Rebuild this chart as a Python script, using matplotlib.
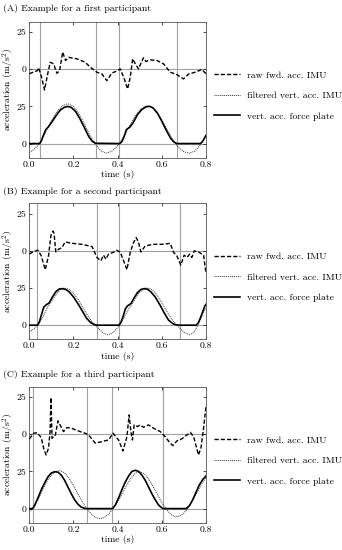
import numpy as np
import matplotlib
matplotlib.use("Agg")
import matplotlib.pyplot as plt

plt.rcParams['font.family'] = 'serif'
plt.rcParams['font.serif'] = ['cmr10']
plt.rcParams['mathtext.fontset'] = 'cm'
plt.rcParams['axes.formatter.use_mathtext'] = True
plt.rcParams['font.size'] = 7

# offset of the raw forward acceleration trace on the shared y axis
raw_offset = 50

titles = ["(A) Example for a first participant",
          "(B) Example for a second participant",
          "(C) Example for a third participant"]
legend_labels = ["raw fwd. acc. IMU", "filtered vert. acc. IMU", "vert. acc. force plate"]
x_ticks = [0.0, 0.2, 0.4, 0.6, 0.8]
x_tick_labels = ["0.0", "0.2", "0.4", "0.6", "0.8"]
y_ticks = [0, 25, 50, 75]
y_tick_labels = ["0", "25", "0", "25"]

# gait events (vertical lines)
events_a = [0.047, 0.300, 0.407, 0.668]
events_b = [0.037, 0.308, 0.406, 0.681]
events_c = [0.015, 0.262, 0.376, 0.606]

# ---- participant A ----
raw_a_t = [0, 0.036, 0.042, 0.055, 0.069, 0.082, 0.095, 0.11, 0.125, 0.137, 0.151, 0.164, 0.178,
           0.216, 0.253, 0.276, 0.306, 0.329, 0.351, 0.374, 0.397, 0.412, 0.43, 0.445, 0.457,
           0.468, 0.48, 0.495, 0.507, 0.517, 0.528, 0.548, 0.578, 0.608, 0.638, 0.668, 0.698,
           0.721, 0.751, 0.781, 0.8]
raw_a_v = [-3, -1, 1, -5, -14, -4, 4.7, 3.6, -2.7, -1, 11.5, 5.9, 8,
           7, 4.7, 1.4, -2, -3.2, -7.7, -2.5, -1.2, 0.2, -6.5, -13.3, -5.4,
           7, 3.6, 0.2, 4.7, 7.7, 5.2, 6.3, 5.9, 3.6, -2, -3.6, -6.5,
           -3.2, -2, -0.2, -3]
filt_a_t = [0, 0.025, 0.05, 0.075, 0.1, 0.125, 0.15, 0.175, 0.2, 0.225, 0.25, 0.275, 0.3, 0.325,
            0.35, 0.375, 0.4, 0.425, 0.45, 0.475, 0.5, 0.525, 0.55, 0.575, 0.6, 0.625, 0.65,
            0.675, 0.7, 0.725, 0.75, 0.775, 0.8]
filt_a_v = [-6, -3.5, 0.5, 8, 15.5, 21.5, 25.5, 26.8, 25, 20, 13, 5.5, -0.5, -5,
            -6.5, -5, -1.5, 4, 11, 17.5, 22.5, 25.2, 25, 22, 16, 9, 2.5,
            -2.5, -5.5, -6.5, -5, -0.8, 5]
force_a_t = [0, 0.047, 0.055, 0.065, 0.075, 0.085, 0.1, 0.12, 0.14, 0.16, 0.175, 0.19, 0.21, 0.23,
             0.25, 0.27, 0.285, 0.3, 0.41, 0.42, 0.43, 0.44, 0.455, 0.47, 0.49, 0.51, 0.53, 0.545,
             0.56, 0.58, 0.6, 0.62, 0.64, 0.655, 0.668, 0.775, 0.785, 0.8]
force_a_v = [0, 0, 2, 6, 9.5, 11, 14, 18.5, 22.5, 24.5, 25, 24.3, 21.5, 16.5,
             10.5, 4.5, 1.5, 0.2, 0, 1.5, 5, 9.5, 11, 14, 19.5, 23, 24.8, 25,
             24, 20.5, 15, 9, 3.5, 1, 0, 0, 1.5, 5.5]

# ---- participant B ----
raw_b_t = [0, 0.02, 0.039, 0.054, 0.072, 0.087, 0.098, 0.107, 0.112, 0.12, 0.133, 0.148, 0.162,
           0.192, 0.238, 0.284, 0.306, 0.324, 0.336, 0.347, 0.359, 0.38, 0.397, 0.412, 0.427,
           0.442, 0.457, 0.472, 0.484, 0.495, 0.505, 0.525, 0.563, 0.608, 0.638, 0.653, 0.668,
           0.686, 0.701, 0.714, 0.726, 0.736, 0.747, 0.766, 0.789, 0.8]
raw_b_v = [-2.2, -0.4, 0.4, -3.3, -12.7, -3.3, 10.4, 13.3, 11.8, -0.7, 1.1, 2.2, 6,
           5.1, 4.4, 2.9, -4.4, -6.7, -2.9, -5.6, -2.2, -1, 0.4, -1, -6.7,
           -12.7, -1, 5.6, 8.9, 5.6, -0.7, 3.3, 4.4, 4.4, 5.1, -1, -3.3,
           -9.6, -2.9, -4.4, -2.2, -4.4, 0, -0.7, -2.9, -15]
filt_b_t = [0, 0.02, 0.04, 0.06, 0.08, 0.1, 0.12, 0.14, 0.16, 0.18, 0.2, 0.22, 0.24, 0.26, 0.28,
            0.3, 0.315, 0.335, 0.355, 0.375, 0.395, 0.41, 0.43, 0.45, 0.47, 0.49, 0.51, 0.53,
            0.55, 0.57, 0.59, 0.61, 0.63, 0.65, 0.665, 0.68, 0.7, 0.725, 0.745, 0.76, 0.78, 0.8]
filt_b_v = [-4.5, -2.5, 0, 5, 11.5, 16, 20.5, 23.8, 25, 24.2, 21.5, 17.5, 12.5, 7.5, 3,
            -0.2, -2.5, -5.3, -6.5, -5.5, -2.5, 0.2, 5.5, 11, 15.5, 20.5, 23.5, 25,
            24.5, 22, 17.5, 12.5, 7.5, 3, 0.5, -1.8, -4.8, -6.5, -5, -1, 5.5, 12]
force_b_t = [0, 0.037, 0.045, 0.055, 0.065, 0.075, 0.09, 0.105, 0.12, 0.135, 0.15, 0.165, 0.18,
             0.2, 0.22, 0.24, 0.26, 0.28, 0.295, 0.31, 0.406, 0.415, 0.425, 0.435, 0.445, 0.46,
             0.475, 0.49, 0.505, 0.52, 0.535, 0.55, 0.57, 0.59, 0.61, 0.63, 0.65, 0.665, 0.68,
             0.755, 0.765, 0.775, 0.785, 0.795, 0.8]
force_b_v = [0, 0, 2, 7, 12, 13.5, 15, 19, 22.5, 24.3, 24.6, 24, 22.5,
             19, 14.5, 9.5, 4.5, 1.5, 0.3, 0, 0, 2, 6, 11, 13, 14.5,
             18.5, 22, 24, 24.6, 24.2, 22.5, 19, 14, 8.5, 3.5, 1, 0.2, 0,
             0, 1.5, 5, 9, 13, 14]

# ---- participant C ----
raw_c_t = [0, 0.02, 0.035, 0.054, 0.065, 0.076, 0.087, 0.094, 0.098, 0.103, 0.118, 0.13, 0.143,
           0.155, 0.17, 0.192, 0.23, 0.253, 0.268, 0.299, 0.33, 0.359, 0.379, 0.404, 0.424,
           0.442, 0.452, 0.46, 0.467, 0.475, 0.49, 0.502, 0.517, 0.54, 0.563, 0.593, 0.615,
           0.638, 0.65, 0.668, 0.69, 0.714, 0.729, 0.744, 0.756, 0.766, 0.777, 0.789, 0.8]
raw_c_v = [-3.1, 0.7, 1.1, -2.2, -9.4, -13.9, -9.4, 1.8, 24.7, -2.7, -0.4, 9, 5.2,
           1.8, 4.5, 4, 1.8, 0.7, -0.4, -6, -4.9, -3.8, 0.7, -3.8, -11.2,
           -1.6, 13, 1.8, -3.8, 6.3, 5.2, 6.3, 4.7, 6.3, 4, 1.8, -1.6,
           -6, -7.6, -4.5, -3.1, -0.4, 1.3, -1.6, -8.3, -13.9, -9.4, 4, 19]
filt_c_t = [0, 0.02, 0.04, 0.06, 0.08, 0.1, 0.12, 0.14, 0.16, 0.18, 0.2, 0.22, 0.24, 0.26, 0.28,
            0.3, 0.32, 0.34, 0.36, 0.38, 0.4, 0.42, 0.44, 0.46, 0.48, 0.5, 0.52, 0.54, 0.56,
            0.58, 0.6, 0.62, 0.64, 0.66, 0.68, 0.7, 0.72, 0.74, 0.76, 0.78, 0.8]
filt_c_v = [-2, 0.5, 6, 12.5, 18.5, 22.5, 25, 25.5, 24, 20.5, 15.5, 10, 4.5, 0, -3.5,
            -6, -6.8, -6, -3.5, 0, 4.5, 10, 15.5, 20.5, 23.8, 24.8, 23.5, 20, 15,
            9.5, 4, -0.5, -3.8, -5.5, -5, -3, 0.5, 5.5, 11, 16.5, 21]
force_c_t = [0, 0.015, 0.025, 0.04, 0.055, 0.07, 0.085, 0.1, 0.115, 0.13, 0.145, 0.16, 0.175,
             0.19, 0.205, 0.22, 0.235, 0.25, 0.262, 0.376, 0.39, 0.405, 0.42, 0.435, 0.45, 0.465,
             0.48, 0.495, 0.51, 0.525, 0.54, 0.555, 0.57, 0.585, 0.6, 0.606, 0.71, 0.725, 0.74,
             0.755, 0.77, 0.785, 0.8]
force_c_v = [0, 0, 2.5, 7.5, 13, 17.5, 21.5, 24, 24.8, 24.5, 22.5, 19, 14.5,
             10, 6, 3, 1, 0.2, 0, 0, 2.5, 7.5, 13, 18, 22, 25,
             25.8, 25, 22.5, 19, 14.5, 10, 6, 2.5, 0.5, 0, 0, 2, 6,
             11, 16, 19.5, 22]

panels = [
    (titles[0], events_a, raw_a_t, raw_a_v, filt_a_t, filt_a_v, force_a_t, force_a_v),
    (titles[1], events_b, raw_b_t, raw_b_v, filt_b_t, filt_b_v, force_b_t, force_b_v),
    (titles[2], events_c, raw_c_t, raw_c_v, filt_c_t, filt_c_v, force_c_t, force_c_v),
]

fig = plt.figure(figsize=(3.42, 5.5), dpi=100)
bottoms = [0.7133, 0.3831, 0.0496]
title_y = [0.985, 0.651, 0.319]

for i, (title, events, rt, rv, ft, fv, pt, pv) in enumerate(panels):
    ax = fig.add_axes([0.0857, bottoms[i], 0.5166, 0.2473])
    for e in events:
        ax.axvline(e, color='#a0a0a0', lw=0.8, zorder=1)
    ax.axhline(0, color='#a0a0a0', lw=0.8, zorder=1)
    ax.axhline(raw_offset, color='#a0a0a0', lw=0.8, zorder=1)

    ax.plot(rt, np.array(rv) + raw_offset, color='black', ls=(0, (3, 1.5)), lw=1.0,
            label=legend_labels[0], zorder=3)
    ax.plot(ft, fv, color='#333333', ls=(0, (1, 1)), lw=0.7, label=legend_labels[1], zorder=2)
    ax.plot(pt, pv, color='black', ls='-', lw=1.2, label=legend_labels[2], zorder=3)

    ax.set_xlim(0, 0.8)
    ax.set_ylim(-9.5, 82)
    ax.set_xticks(x_ticks)
    ax.set_xticklabels(x_tick_labels)
    ax.set_yticks(y_ticks)
    ax.set_yticklabels(y_tick_labels)
    ax.tick_params(direction='in', length=2, width=0.5, top=True, right=True, pad=2)
    for s in ax.spines.values():
        s.set_linewidth(0.6)
        s.set_color('#555555')
    ax.set_xlabel("time (s)", labelpad=1)
    ax.set_ylabel(r"acceleration (m/s$^2$)")
    ax.yaxis.set_label_coords(-0.078, 0.5)

    ax.legend(loc='center left', bbox_to_anchor=(1.02, 0.455), frameon=False,
              handlelength=2.6, handletextpad=0.8, labelspacing=1.2, borderpad=0)

    fig.text(0.008, title_y[i], title, ha='left', va='center')

fig.savefig("out.png", dpi=100)
